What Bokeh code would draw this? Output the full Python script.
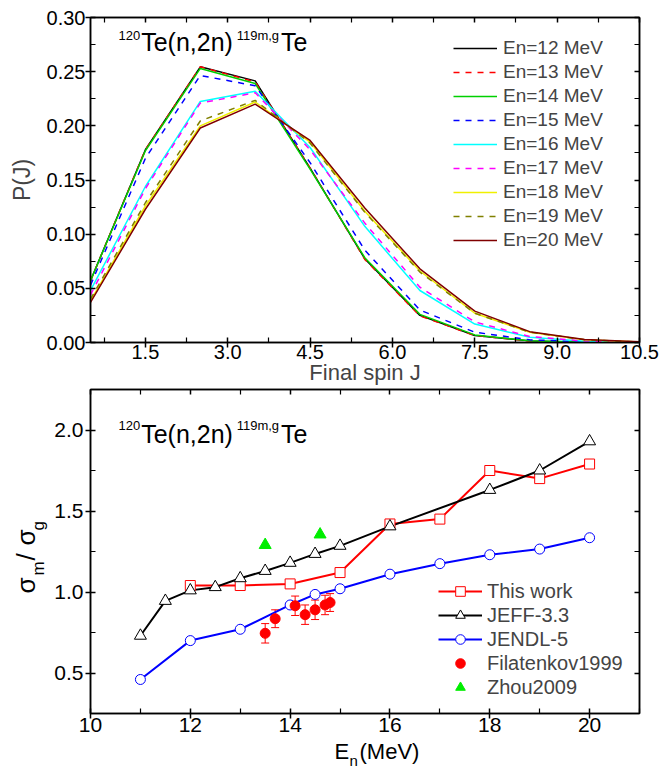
import numpy as np
from bokeh.plotting import figure
from bokeh.models import (ColumnDataSource, FixedTicker, LinearAxis, Label, Legend,
                          LegendItem, Whisker, TeeHead, Range1d, NumeralTickFormatter,
                          CustomJSTickFormatter)
from bokeh.layouts import column, row
from bokeh.embed import file_html
from bokeh.resources import INLINE

FONT = "Liberation Sans"

# ---------------- data: top panel (spin distribution) ----------------
spin_J = [0.5, 1.5, 2.5, 3.5, 4.5, 5.5, 6.5, 7.5, 8.5, 9.5, 10.5]
pj_12 = [0.057, 0.178, 0.2545, 0.2415, 0.161, 0.077, 0.025, 0.0065, 0.0015, 0.0003, 0.0001]
pj_13 = [0.057, 0.178, 0.2545, 0.2405, 0.161, 0.0765, 0.0245, 0.0065, 0.0014, 0.0003, 0.0001]
pj_14 = [0.057, 0.177, 0.253, 0.239, 0.160, 0.078, 0.026, 0.007, 0.0016, 0.0003, 0.0001]
pj_15 = [0.053, 0.170, 0.2465, 0.237, 0.166, 0.085, 0.030, 0.0095, 0.0025, 0.0006, 0.0001]
pj_16 = [0.048, 0.144, 0.2225, 0.232, 0.180, 0.107, 0.048, 0.017, 0.0048, 0.0012, 0.0002]
pj_17 = [0.044, 0.142, 0.221, 0.2305, 0.178, 0.110, 0.051, 0.019, 0.0055, 0.0014, 0.0003]
pj_18 = [0.0385, 0.126, 0.200, 0.222, 0.185, 0.121, 0.066, 0.027, 0.0095, 0.0025, 0.0005]
pj_19 = [0.040, 0.129, 0.2045, 0.2235, 0.184, 0.120, 0.065, 0.027, 0.0095, 0.0025, 0.0005]
pj_20 = [0.037, 0.123, 0.198, 0.220, 0.1865, 0.124, 0.068, 0.029, 0.010, 0.0028, 0.0006]
top_series = [pj_12, pj_13, pj_14, pj_15, pj_16, pj_17, pj_18, pj_19, pj_20]
top_labels = ["En=12 MeV", "En=13 MeV", "En=14 MeV", "En=15 MeV", "En=16 MeV",
              "En=17 MeV", "En=18 MeV", "En=19 MeV", "En=20 MeV"]
top_colors = ["#000000", "#FF0000", "#00D000", "#0000FF", "#00FFFF",
              "#FF00FF", "#F0F000", "#808000", "#800000"]
top_dashes = ["solid", "6 6", "solid", "6 6", "solid", "6 6", "solid", "6 6", "solid"]

top_xticks = [1.5, 3.0, 4.5, 6.0, 7.5, 9.0, 10.5]
top_xminor = [0.75, 2.25, 3.75, 5.25, 6.75, 8.25, 9.75]
top_yticks = [0.0, 0.05, 0.10, 0.15, 0.20, 0.25, 0.30]
top_yminor = [0.025, 0.075, 0.125, 0.175, 0.225, 0.275]

# ---------------- data: bottom panel (isomeric ratio) ----------------
this_E = [12, 13, 14, 15, 16, 17, 18, 19, 20]
this_R = [1.04, 1.04, 1.05, 1.12, 1.42, 1.45, 1.75, 1.70, 1.79]
jeff_E = [11, 11.5, 12, 12.5, 13, 13.5, 14, 14.5, 15, 16, 18, 19, 20]
jeff_R = [0.73, 0.945, 1.01, 1.03, 1.085, 1.13, 1.18, 1.235, 1.285, 1.405, 1.63, 1.75, 1.93]
jendl_E = [11, 12, 13, 14, 14.5, 15, 16, 17, 18, 19, 20]
jendl_R = [0.46, 0.70, 0.77, 0.92, 0.985, 1.02, 1.11, 1.175, 1.23, 1.265, 1.335]
fil_E = [13.5, 13.7, 14.1, 14.3, 14.5, 14.7, 14.8]
fil_R = [0.745, 0.835, 0.915, 0.86, 0.89, 0.92, 0.935]
fil_err = [0.06, 0.055, 0.06, 0.06, 0.06, 0.06, 0.055]
zhou_E = [13.5, 14.6]
zhou_R = [1.29, 1.355]

bot_xticks = [10, 12, 14, 16, 18, 20]
bot_xminor = [11, 13, 15, 17, 19, 21]
bot_yticks = [0.5, 1.0, 1.5, 2.0]
bot_yminor = [0.25, 0.75, 1.25, 1.75, 2.25]

# Arial / Liberation Sans advance widths (em)
ADV = {c: 0.556 for c in "0123456789"}
ADV.update({"T": 0.611, "e": 0.556, "(": 0.333, ")": 0.333, "n": 0.556,
            ",": 0.278, "m": 0.833, "g": 0.556})
# measured shift of Label text relative to the requested alphabetic baseline (em)
BASE_SHIFT = 0.36


def text_width(s, size):
    return sum(ADV.get(c, 0.556) for c in s) * size


def style_axis(ax, fmt, size, standoff, show_labels=True):
    ax.axis_line_color = "black"
    ax.axis_line_width = 1.5
    ax.major_tick_line_color = "black"
    ax.major_tick_line_width = 1.5
    ax.minor_tick_line_color = "black"
    ax.minor_tick_line_width = 1.2
    ax.major_tick_in = 5
    ax.minor_tick_in = 5
    ax.minor_tick_out = 0
    if show_labels:
        ax.major_tick_out = 5
        ax.formatter = NumeralTickFormatter(format=fmt)
        ax.major_label_text_font = FONT
        ax.major_label_text_font_size = f"{size}px"
        ax.major_label_text_color = "black"
        ax.major_label_standoff = standoff
    else:
        ax.major_tick_out = 0
        ax.formatter = CustomJSTickFormatter(code="return ''")
        ax.major_label_text_font_size = "1px"
        ax.major_label_standoff = 0


def make_fig(width, height, xr, yr, borders, xt, xm, yt, ym, xfmt, yfmt, fsize,
             xstand, ystand):
    bl, br, bt, bb = borders
    p = figure(width=width, height=height, x_range=xr, y_range=yr,
               output_backend="svg", toolbar_location=None,
               min_border_left=bl, min_border_right=br,
               min_border_top=bt, min_border_bottom=bb,
               x_axis_type=None, y_axis_type=None)
    p.outline_line_color = "black"
    p.outline_line_width = 1.5
    p.background_fill_color = "white"
    p.border_fill_color = "white"
    axes = {}
    for place, dim in (("below", "x"), ("left", "y"), ("above", "x"), ("right", "y")):
        ax = LinearAxis()
        if dim == "x":
            ax.ticker = FixedTicker(ticks=xt, minor_ticks=xm)
        else:
            ax.ticker = FixedTicker(ticks=yt, minor_ticks=ym)
        show = place in ("below", "left")
        style_axis(ax, xfmt if dim == "x" else yfmt, fsize,
                   xstand if dim == "x" else ystand, show)
        p.add_layout(ax, place)
        axes[place] = ax
    return p, axes


def make_strip(width, height, borders):
    bl, br, bt, bb = borders
    s = figure(width=width, height=height, x_range=Range1d(0, 1), y_range=Range1d(0, 1),
               output_backend="svg", toolbar_location=None,
               min_border_left=bl, min_border_right=br, min_border_top=bt,
               min_border_bottom=bb, x_axis_type=None, y_axis_type=None)
    s.outline_line_color = None
    s.background_fill_color = "white"
    s.border_fill_color = "white"
    return s


def add_label(p, x, y, text, size, rotated=False, align="left"):
    # (x, y): wanted baseline start, frame-relative screen px
    if rotated:
        x = x - BASE_SHIFT * size
    else:
        y = y + BASE_SHIFT * size
    p.add_layout(Label(x=x, y=y, x_units="screen", y_units="screen", text=text,
                       text_font=FONT, text_font_size=f"{size}px", text_color="black",
                       text_baseline="alphabetic", text_align=align,
                       angle=(np.pi / 2 if rotated else 0.0)))


def add_reaction(p, x0, y_base, y_sup):
    pieces = [("120", 13, True), ("Te(n,2n)", 25, False), ("119m,g", 13, True), ("Te", 25, False)]
    x = x0
    for txt, size, sup in pieces:
        add_label(p, x, y_sup if sup else y_base, txt, size)
        x += text_width(txt, size) + 1


# ---------------- top figure ----------------
p1, ax1 = make_fig(659, 388, Range1d(0.5, 10.5), Range1d(0.0, 0.30), (90, 20, 17, 46),
                   top_xticks, top_xminor, top_yticks, top_yminor, "0.0", "0.00", 20, -3, 0)
ax1["below"].axis_label = "Final spin J"
ax1["below"].axis_label_text_font = FONT
ax1["below"].axis_label_text_font_size = "22px"
ax1["below"].axis_label_text_font_style = "normal"
ax1["below"].axis_label_standoff = -2
ax1["left"].axis_label = "P(J)"
ax1["left"].axis_label_text_font = FONT
ax1["left"].axis_label_text_font_size = "23px"
ax1["left"].axis_label_text_font_style = "normal"
ax1["left"].axis_label_standoff = 9

top_items = []
for ys, lab, col, dash in zip(top_series, top_labels, top_colors, top_dashes):
    r = p1.line(spin_J, ys, line_color=col, line_width=1.5, line_dash=dash)
    top_items.append(LegendItem(label=lab, renderers=[r]))

leg1 = Legend(items=top_items, location=(363, 90), padding=0, margin=0, spacing=0,
              glyph_width=44, glyph_height=24, label_height=24, label_standoff=6,
              label_text_font=FONT, label_text_font_size="19px",
              border_line_color=None, background_fill_alpha=0)
p1.add_layout(leg1)

add_reaction(p1, 28, 292, 302)

# ---------------- bottom figure ----------------
p2, ax2 = make_fig(609, 354, Range1d(10, 21), Range1d(0.25, 2.25), (40, 20, 1, 29),
                   bot_xticks, bot_xminor, bot_yticks, bot_yminor, "0", "0.0", 21, -1, 2)

r_tw_l = p2.line(this_E, this_R, line_color="#FF0000", line_width=2)
r_je_l = p2.line(jeff_E, jeff_R, line_color="#000000", line_width=2)
r_jd_l = p2.line(jendl_E, jendl_R, line_color="#0000FF", line_width=2)

fsrc = ColumnDataSource(dict(x=fil_E, y=fil_R,
                             upper=list(np.array(fil_R) + np.array(fil_err)),
                             lower=list(np.array(fil_R) - np.array(fil_err))))
wh = Whisker(source=fsrc, base="x", upper="upper", lower="lower",
             line_color="#FF0000", line_width=1,
             upper_head=TeeHead(size=8, line_color="#FF0000", line_width=1),
             lower_head=TeeHead(size=8, line_color="#FF0000", line_width=1))
p2.add_layout(wh)

r_tw_m = p2.scatter(this_E, this_R, marker="square", size=10, line_color="#FF0000",
                    fill_color="white", line_width=1)
r_je_m = p2.scatter(jeff_E, jeff_R, marker="triangle", size=12, line_color="#000000",
                    fill_color="white", line_width=1)
r_jd_m = p2.scatter(jendl_E, jendl_R, marker="circle", size=10, line_color="#0000FF",
                    fill_color="white", line_width=1)
r_fil = p2.scatter("x", "y", source=fsrc, marker="circle", size=10,
                   line_color="#FF0000", fill_color="#FF0000")
r_zhou = p2.scatter(zhou_E, zhou_R, marker="triangle", size=12,
                    line_color="#00EE00", fill_color="#00EE00")

bot_items = [LegendItem(label="This work", renderers=[r_tw_l, r_tw_m]),
             LegendItem(label="JEFF-3.3", renderers=[r_je_l, r_je_m]),
             LegendItem(label="JENDL-5", renderers=[r_jd_l, r_jd_m]),
             LegendItem(label="Filatenkov1999", renderers=[r_fil]),
             LegendItem(label="Zhou2009", renderers=[r_zhou])]
leg2 = Legend(items=bot_items, location=(348, 14), padding=0, margin=0, spacing=0,
              glyph_width=44, glyph_height=24, label_height=24, label_standoff=5,
              label_text_font=FONT, label_text_font_size="20px",
              border_line_color=None, background_fill_alpha=0)
p2.add_layout(leg2)

add_reaction(p2, 28, 271, 283)

# ---------------- strips holding the composite axis titles ----------------
# left strip: same top/bottom borders as p2 -> its frame spans page y 389..713
strip_left = make_strip(50, 354, (0, 0, 1, 29))
FB = 713
add_label(strip_left, 35, FB - 593, "σ", 26, rotated=True)
add_label(strip_left, 44, FB - 575, "m", 17, rotated=True)
add_label(strip_left, 35, FB - 560, "/", 26, rotated=True)
add_label(strip_left, 35, FB - 545, "σ", 26, rotated=True)
add_label(strip_left, 44, FB - 530, "g", 17, rotated=True)

# bottom strip: same left/right borders as p1 -> its frame spans page x 90..639
strip_bottom = make_strip(659, 25, (90, 20, 0, 0))
FL = 90
add_label(strip_bottom, 334 - FL, 8, "E", 22)
add_label(strip_bottom, 349 - FL, 2, "n", 15)
add_label(strip_bottom, 359 - FL, 8, "(MeV)", 22)

layout = column(p1, row(strip_left, p2, spacing=0), strip_bottom, spacing=0)
open("out.html", "w").write(file_html(layout, INLINE))
